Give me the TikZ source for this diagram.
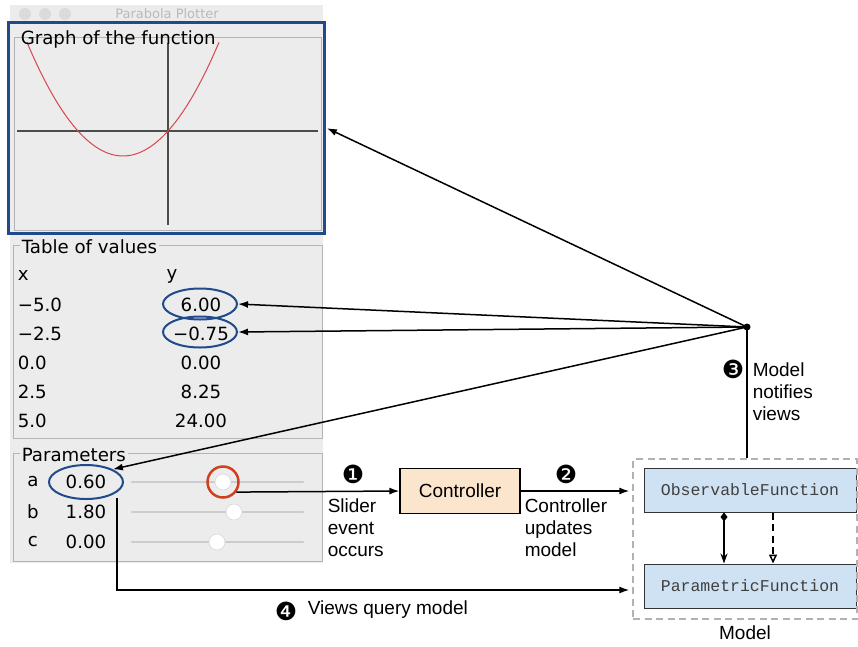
\documentclass[tikz,border=0pt]{standalone}
\usepackage{fontspec}
\setmainfont{Liberation Sans}
\setmonofont{Liberation Mono}
\newfontfamily\guifont{DejaVu Sans}
\newfontfamily\dingfont{DejaVu Sans}
\usetikzlibrary{arrows.meta,shapes.geometric,positioning}

\definecolor{guibg}{HTML}{ECECEC}
\definecolor{framegray}{HTML}{B4B4B4}
\definecolor{ovalblue}{HTML}{1F4A8C}
\definecolor{ringred}{HTML}{D0401F}
\definecolor{curvered}{HTML}{D64550}
\definecolor{peach}{HTML}{FCE5CD}
\definecolor{classblue}{HTML}{CFE2F3}

\begin{document}
\begin{tikzpicture}[x=1pt, y=-1pt, line width=1.5pt, >={Latex[length=10pt,width=7pt]}]
			\useasboundingbox (0,0) rectangle (858,646);
			\tikzstyle{gui} = [font=\guifont\fontsize{18.2}{20}\selectfont, inner sep=0pt]
			\tikzstyle{label} = [font=\fontsize{19}{22}\selectfont, align=left, inner sep=0pt]
			\tikzstyle{badge} = [font=\dingfont\fontsize{25}{25}\selectfont, inner sep=0pt]
			\tikzstyle{oval} = [ellipse, draw=ovalblue, line width=2pt, minimum width=74pt, minimum height=31pt]
			\tikzstyle{panel} = [draw=framegray, line width=1pt]
			\tikzstyle{track} = [draw=gray!40, line width=2.5pt, line cap=round]
			\tikzstyle{knob} = [circle, fill=white, draw=gray!30, line width=0.6pt, minimum size=16pt, inner sep=0pt]
			\tikzstyle{longdash} = [dash pattern=on 7pt off 4.5pt]
			\tikzstyle{classbox} = [draw=black!80, fill=classblue, line width=1pt, minimum width=212pt, minimum height=44pt, font=\ttfamily\fontsize{16.5}{18}\selectfont, text=black!75]
			% window
			\fill[guibg] (10,5) rectangle (323,563);
			\foreach \x in {25,45,65}
			\fill[gray!28] (\x,14) circle (6);
			\node[gui, text=gray!55, font=\guifont\fontsize{13}{14}\selectfont] (wintitle) at (167,14) {Parabola Plotter};
			% graph of the function
			\node[draw=ovalblue, line width=3pt, minimum width=316pt, minimum height=211pt, inner sep=0pt] (graph) at (166,127.5) {};
			\draw[panel] (14,37) rectangle (321,230);
			\draw[gray!60!black, line width=1.2pt] (17,131) -- (318,131) (168,43) -- (168,225);
			\draw[curvered, line width=1pt, domain=-4.7:1.7, samples=60] plot ({168+30*\x}, {131-18.5*(0.6*\x*\x+1.8*\x)});
			\node[gui, anchor=west] (gtitle) at (20,39) {Graph of the function};
			% table of values
			\draw[panel] (13,245) rectangle (322,438);
			\node[gui, anchor=west, fill=guibg, inner xsep=2pt] (ttitle) at (19,247) {Table of values};
			\node[gui, anchor=west] (xhead) at (17,276) {x};
			\node[gui] (yhead) at (172,276) {y};
			\foreach \xv/\yv [count=\i] in {−5.0/6.00, −2.5/−0.75, 0.0/0.00, 2.5/8.25, 5.0/24.00} {
				\node[gui, anchor=west] (xval\i) at ({17},{305+29*(\i-1)}) {\xv};
				\node[gui] (yval\i) at ({201},{305+29*(\i-1)}) {\yv};
			}
			\node[oval] (oval600) at (200,304) {};
			\node[oval] (oval075) at (200,332) {};
			% parameters
			\draw[panel] (13,453) rectangle (322,561);
			\node[gui, anchor=west, fill=guibg, inner xsep=2pt] (ptitle) at (19,455) {Parameters};
			\foreach \p/\v/\k [count=\i] in {a/0.60/223, b/1.80/234, c/0.00/217} {
				\node[gui] (pname\i) at ({33},{482+30*(\i-1)}) {\p};
				\node[gui] (pval\i) at ({86},{482+30*(\i-1)}) {\v};
				\draw[track] ({132},{482+30*(\i-1)}) -- ({303},{482+30*(\i-1)});
				\node[knob] (knob\i) at ({\k},{482+30*(\i-1)}) {};
			}
			\node[oval, minimum height=34pt] (oval060) at (86,482) {};
			\node[circle, draw=ringred, line width=2.5pt, minimum size=31pt, inner sep=0pt] (ring) at (knob1) {};
			% controller and model
			\node[draw, fill=peach, line width=1.2pt, minimum width=120pt, minimum height=45pt, label] (ctrl) at (460,491) {Controller};
			\node[classbox] (obs) at (750,490) {ObservableFunction};
			\node[classbox] (par) at (750,586) {ParametricFunction};
			\node[draw=gray!60, longdash, line width=1.3pt, minimum width=224pt, minimum height=160pt] (model) at (745,539) {};
			\node[label, below=5pt of model] (modelname) {Model};
			\coordinate (hub) at (747,327);
			\coordinate (qstart) at (117,498);
			\fill (hub) circle (3.5);
			% connectors
			\draw[->] (ring.-37) -- (ctrl.west);
			\draw[->, shorten >=3pt] (ctrl.east) -- (ctrl.east -| model.west);
			\draw[->, shorten >=1.5pt] (hub) -- (graph.east);
			\foreach \to in {oval600.east, oval075.east, oval060.north east}
			\draw[->] (hub) -- (\to);
			\draw (hub) -- (hub |- model.north);
			\draw[->, shorten >=3pt] (qstart) |- ([yshift=-4pt]model.west |- par);
			\draw[{Diamond[length=9pt,width=7pt]}-{Stealth[length=10pt,width=7pt]}] ([xshift=-26pt]obs.south) -- ([xshift=-26pt]par.north);
			\draw[longdash, -{Triangle[open,length=9pt,width=8pt]}] ([xshift=23pt]obs.south) -- ([xshift=23pt]par.north);
			% step labels
			\node[badge] (num1) at (353,474) {❶};
			\node[label, anchor=west] (slidertxt) at (327,528) {Slider\\event\\occurs};
			\node[badge] (num2) at (566,474) {❷};
			\node[label, anchor=west] (updatetxt) at (524,528) {Controller\\updates\\model};
			\node[badge] (num3) at (733,369) {❸};
			\node[label, anchor=west] (notifytxt) at (752,392) {Model\\notifies\\views};
			\node[badge] (num4) at (286,611) {❹};
			\node[label, anchor=west] (querytxt) at (307,610) {Views query model};
			\end{tikzpicture}
\end{document}
